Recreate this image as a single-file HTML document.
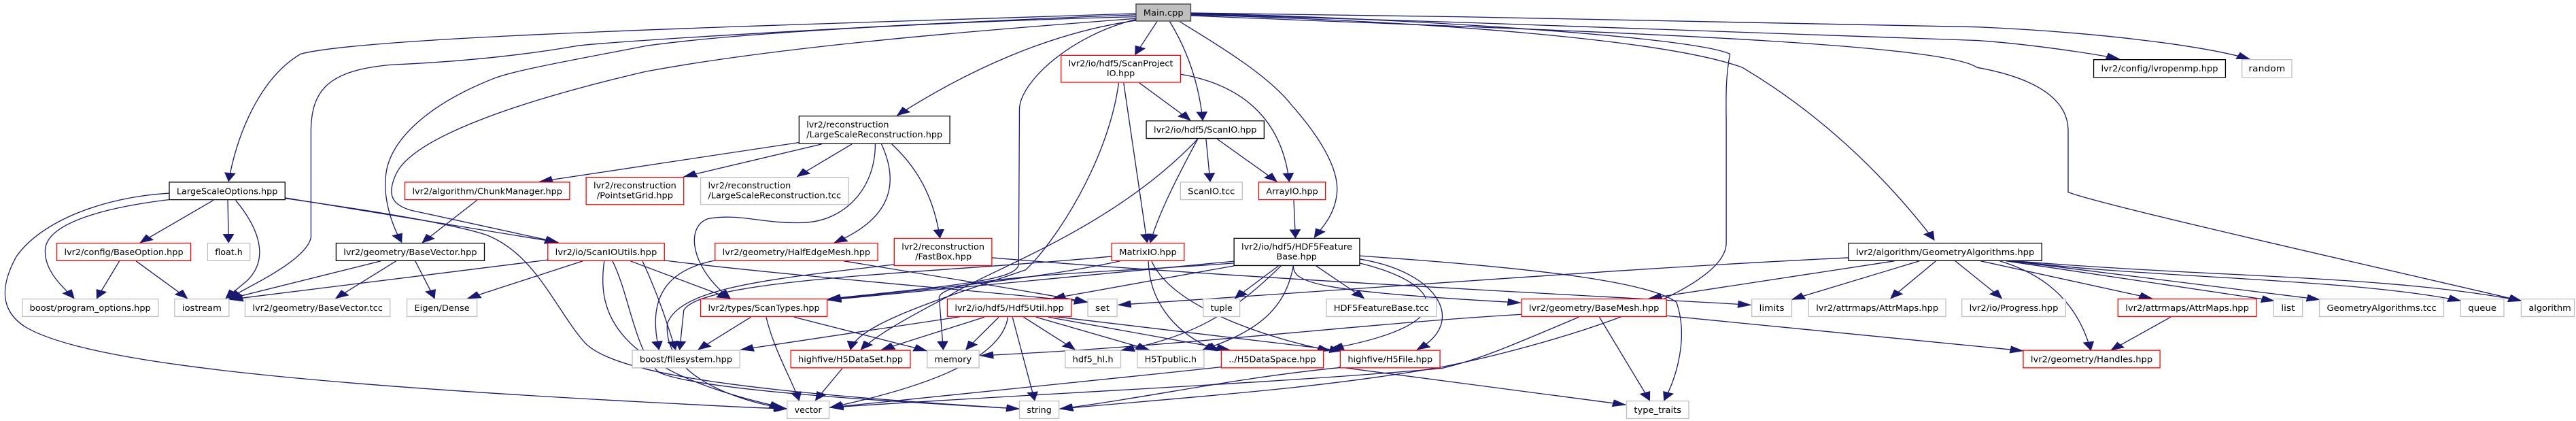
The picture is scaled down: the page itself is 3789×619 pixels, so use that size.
<!DOCTYPE html>
<html><head><meta charset="utf-8"><style>
html,body{margin:0;padding:0;background:#fff;}
svg{display:block;}
text{font-family:"DejaVu Sans","Liberation Sans",sans-serif;font-size:32px;fill:#000;}
</style></head><body>
<svg width="3789" height="619" viewBox="0 0 6254 1560" preserveAspectRatio="none" xmlns="http://www.w3.org/2000/svg">
<defs>
<marker id="a" markerUnits="userSpaceOnUse" markerWidth="34" markerHeight="28" refX="32" refY="14" orient="auto">
<path d="M0,0 L34,14 L0,28 z" fill="#191970"/>
</marker>
</defs>
<g fill="none" stroke="#191970" stroke-width="1.3" vector-effect="non-scaling-stroke" marker-end="url(#a)">
<path vector-effect="non-scaling-stroke" d="M2758,50 C2000,90 900,130 730,200 C630,290 575,500 555,672"/>
<path vector-effect="non-scaling-stroke" d="M2758,55 C2300,80 1500,150 1400,170 C1250,210 1100,230 950,240 C800,260 757,330 755,480 L755,880 C745,960 620,1050 555,1105"/>
<path vector-effect="non-scaling-stroke" d="M2760,62 C2300,80 1800,120 1568,170 C1400,220 1250,260 1200,290 C1050,380 960,500 940,620 C925,720 950,830 975,898"/>
<path vector-effect="non-scaling-stroke" d="M2762,68 C2400,110 1900,170 1568,265 C1300,360 1000,500 960,650 C940,720 950,760 1000,780 L1355,898"/>
<path vector-effect="non-scaling-stroke" d="M2762,75 C2550,120 2350,260 2178,428"/>
<path vector-effect="non-scaling-stroke" d="M2809,80 L2756,203"/>
<path vector-effect="non-scaling-stroke" d="M2840,80 C2880,180 2910,300 2920,446"/>
<path vector-effect="non-scaling-stroke" d="M2864,80 C2960,170 3080,280 3136,390 C3200,500 3250,620 3246,710 C3243,790 3210,845 3191,880"/>
<path vector-effect="non-scaling-stroke" d="M2758,72 C2600,130 2480,300 2475,400 L2473,980 C2470,1040 2300,1060 2010,1108"/>
<path vector-effect="non-scaling-stroke" d="M2891,50 C3300,60 4100,130 4200,200 C4190,280 4190,350 4191,450 L4191,900 C4191,1100 3700,1300 3500,1360 C3200,1440 2900,1470 2573,1515"/>
<path vector-effect="non-scaling-stroke" d="M2891,55 C3500,80 4050,150 4230,250 C4450,450 4600,700 4696,890"/>
<path vector-effect="non-scaling-stroke" d="M2891,58 C3700,110 4704,150 4800,250 C4980,300 5020,400 5021,480 L5021,712 C5100,760 5800,1000 6122,1115"/>
<path vector-effect="non-scaling-stroke" d="M2891,52 C3600,80 4704,150 4800,150 C4900,160 5050,190 5145,218"/>
<path vector-effect="non-scaling-stroke" d="M2891,48 C3600,60 4704,95 4800,100 C5100,120 5350,170 5462,219"/>
<path vector-effect="non-scaling-stroke" d="M518,742 L340,900"/>
<path vector-effect="non-scaling-stroke" d="M553,742 L555,899"/>
<path vector-effect="non-scaling-stroke" d="M572,742 C620,830 660,950 600,1040 L548,1106"/>
<path vector-effect="non-scaling-stroke" d="M410,740 C300,760 120,810 110,920 C105,1000 150,1060 180,1106"/>
<path vector-effect="non-scaling-stroke" d="M410,716 C250,730 100,820 40,950 C0,1060 0,1150 60,1210 C200,1340 700,1420 1568,1490 C1700,1500 1800,1510 1911,1515"/>
<path vector-effect="non-scaling-stroke" d="M692,733 L1355,898"/>
<path vector-effect="non-scaling-stroke" d="M692,735 C900,780 1100,830 1180,870 C1300,940 1350,1150 1420,1270 C1500,1400 1900,1460 2475,1515"/>
<path vector-effect="non-scaling-stroke" d="M290,967 L235,1106"/>
<path vector-effect="non-scaling-stroke" d="M330,967 L455,1106"/>
<path vector-effect="non-scaling-stroke" d="M1158,742 L1025,900"/>
<path vector-effect="non-scaling-stroke" d="M925,967 L555,1108"/>
<path vector-effect="non-scaling-stroke" d="M962,967 L815,1106"/>
<path vector-effect="non-scaling-stroke" d="M1008,967 L1055,1106"/>
<path vector-effect="non-scaling-stroke" d="M1330,963 L558,1110"/>
<path vector-effect="non-scaling-stroke" d="M1415,967 L1135,1106"/>
<path vector-effect="non-scaling-stroke" d="M1530,967 L1773,1106"/>
<path vector-effect="non-scaling-stroke" d="M1613,965 C1900,1020 2400,1080 2640,1120"/>
<path vector-effect="non-scaling-stroke" d="M1467,967 C1450,1150 1480,1370 1900,1510"/>
<path vector-effect="non-scaling-stroke" d="M1487,967 C1530,1100 1540,1300 1600,1380 C1700,1450 2200,1490 2475,1515"/>
<path vector-effect="non-scaling-stroke" d="M1560,968 C1600,1100 1620,1200 1640,1296"/>
<path vector-effect="non-scaling-stroke" d="M1940,528 L1310,673"/>
<path vector-effect="non-scaling-stroke" d="M1995,534 L1660,655"/>
<path vector-effect="non-scaling-stroke" d="M2068,534 L1935,655"/>
<path vector-effect="non-scaling-stroke" d="M2125,534 C2125,700 2050,820 1950,825 C1850,830 1800,790 1720,810 C1660,840 1680,1000 1773,1106"/>
<path vector-effect="non-scaling-stroke" d="M2140,534 C2190,700 2150,820 2025,900"/>
<path vector-effect="non-scaling-stroke" d="M2165,534 C2240,640 2270,760 2282,882"/>
<path vector-effect="non-scaling-stroke" d="M2048,967 C2300,1030 2500,1080 2641,1120"/>
<path vector-effect="non-scaling-stroke" d="M1736,965 C1620,1000 1570,1100 1600,1296"/>
<path vector-effect="non-scaling-stroke" d="M2408,955 C3000,1030 3800,1090 4251,1130"/>
<path vector-effect="non-scaling-stroke" d="M2171,980 C1900,1030 1650,1060 1620,1200 C1610,1400 1800,1490 1911,1515"/>
<path vector-effect="non-scaling-stroke" d="M2766,307 L2890,446"/>
<path vector-effect="non-scaling-stroke" d="M2728,307 L2785,899"/>
<path vector-effect="non-scaling-stroke" d="M2866,275 C3000,310 3110,420 3130,673"/>
<path vector-effect="non-scaling-stroke" d="M2716,307 C2690,600 2560,900 2490,1000 C2300,1100 2080,1200 2065,1296"/>
<path vector-effect="non-scaling-stroke" d="M2928,515 L2938,673"/>
<path vector-effect="non-scaling-stroke" d="M2955,515 L3100,673"/>
<path vector-effect="non-scaling-stroke" d="M2908,515 C2860,650 2810,800 2793,899"/>
<path vector-effect="non-scaling-stroke" d="M2908,515 C2700,850 2400,1000 2300,1100 C2200,1180 2130,1240 2090,1296"/>
<path vector-effect="non-scaling-stroke" d="M3141,742 L3145,882"/>
<path vector-effect="non-scaling-stroke" d="M2720,967 C2500,1040 2200,1080 2010,1110"/>
<path vector-effect="non-scaling-stroke" d="M2788,968 C2790,1100 2840,1230 2955,1300"/>
<path vector-effect="non-scaling-stroke" d="M2796,968 C2850,1150 3100,1260 3230,1300"/>
<path vector-effect="non-scaling-stroke" d="M2699,950 C2300,1010 1700,1030 1660,1150 L1650,1296"/>
<path vector-effect="non-scaling-stroke" d="M2996,968 L2010,1112"/>
<path vector-effect="non-scaling-stroke" d="M2996,985 L2555,1106"/>
<path vector-effect="non-scaling-stroke" d="M3104,985 L2998,1106"/>
<path vector-effect="non-scaling-stroke" d="M3195,985 L3312,1106"/>
<path vector-effect="non-scaling-stroke" d="M3301,960 C3500,1010 3560,1200 3440,1296"/>
<path vector-effect="non-scaling-stroke" d="M3301,975 C3500,1050 3560,1200 3230,1292"/>
<path vector-effect="non-scaling-stroke" d="M3301,948 C3700,990 4000,1040 4070,1120 C4100,1250 4070,1400 4040,1484"/>
<path vector-effect="non-scaling-stroke" d="M3110,985 C3000,1150 2900,1250 2722,1298"/>
<path vector-effect="non-scaling-stroke" d="M3140,985 C3120,1150 3050,1230 2920,1296"/>
<path vector-effect="non-scaling-stroke" d="M2996,975 C2700,1010 2300,1020 2280,1100 L2290,1296"/>
<path vector-effect="non-scaling-stroke" d="M3140,985 C3140,1050 3200,1080 3692,1122"/>
<path vector-effect="non-scaling-stroke" d="M2330,1174 L1798,1296"/>
<path vector-effect="non-scaling-stroke" d="M2390,1175 L2140,1296"/>
<path vector-effect="non-scaling-stroke" d="M2425,1175 L2345,1296"/>
<path vector-effect="non-scaling-stroke" d="M2485,1175 L2610,1296"/>
<path vector-effect="non-scaling-stroke" d="M2515,1175 L2790,1296"/>
<path vector-effect="non-scaling-stroke" d="M2545,1175 L2985,1296"/>
<path vector-effect="non-scaling-stroke" d="M2560,1173 L3260,1300"/>
<path vector-effect="non-scaling-stroke" d="M2447,1175 C2430,1350 2200,1450 2015,1510"/>
<path vector-effect="non-scaling-stroke" d="M2458,1175 L2512,1484"/>
<path vector-effect="non-scaling-stroke" d="M1823,1175 L1695,1296"/>
<path vector-effect="non-scaling-stroke" d="M1860,1175 C1880,1300 1920,1400 1940,1484"/>
<path vector-effect="non-scaling-stroke" d="M1928,1175 L2250,1300"/>
<path vector-effect="non-scaling-stroke" d="M2045,1365 L1980,1484"/>
<path vector-effect="non-scaling-stroke" d="M2965,1360 C2600,1420 2200,1480 2015,1510"/>
<path vector-effect="non-scaling-stroke" d="M3250,1360 L3947,1500"/>
<path vector-effect="non-scaling-stroke" d="M3254,1362 C3000,1400 2800,1470 2573,1515"/>
<path vector-effect="non-scaling-stroke" d="M3883,1175 L4005,1484"/>
<path vector-effect="non-scaling-stroke" d="M4046,1170 L4912,1300"/>
<path vector-effect="non-scaling-stroke" d="M3833,1175 C3700,1260 3600,1330 3500,1365 C3100,1420 2500,1460 2015,1510"/>
<path vector-effect="non-scaling-stroke" d="M3694,1165 C3300,1200 2900,1280 2380,1318"/>
<path vector-effect="non-scaling-stroke" d="M4488,955 C4000,990 3500,1050 2714,1130"/>
<path vector-effect="non-scaling-stroke" d="M4600,967 L4003,1106"/>
<path vector-effect="non-scaling-stroke" d="M4660,967 L4350,1110"/>
<path vector-effect="non-scaling-stroke" d="M4700,967 L4590,1106"/>
<path vector-effect="non-scaling-stroke" d="M4747,967 L4860,1106"/>
<path vector-effect="non-scaling-stroke" d="M4808,967 L5225,1106"/>
<path vector-effect="non-scaling-stroke" d="M4855,967 C4950,1010 5040,1100 5076,1298"/>
<path vector-effect="non-scaling-stroke" d="M4870,967 L5522,1115"/>
<path vector-effect="non-scaling-stroke" d="M4880,967 L5632,1110"/>
<path vector-effect="non-scaling-stroke" d="M4890,967 C5200,1030 5700,1030 5975,1115"/>
<path vector-effect="non-scaling-stroke" d="M4890,967 C5400,1030 5800,1020 6122,1115"/>
<path vector-effect="non-scaling-stroke" d="M5270,1175 L5125,1298"/>
</g>
<g stroke-width="1.3">
<!-- boxes: black border -->
<g fill="#fff" stroke="#000">
<rect vector-effect="non-scaling-stroke" x="411" y="675" width="281" height="65"/>
<rect vector-effect="non-scaling-stroke" x="816" y="901" width="360" height="65"/>
<rect vector-effect="non-scaling-stroke" x="1940" y="430" width="366" height="102"/>
<rect vector-effect="non-scaling-stroke" x="2783" y="448" width="286" height="65"/>
<rect vector-effect="non-scaling-stroke" x="2996" y="883" width="305" height="101"/>
<rect vector-effect="non-scaling-stroke" x="4488" y="901" width="469" height="65"/>
<rect vector-effect="non-scaling-stroke" x="5083" y="221" width="320" height="66"/>
</g>
<rect vector-effect="non-scaling-stroke" x="2758" y="15" width="133" height="63" fill="#bfbfbf" stroke="#404040"/>
<g fill="#fff" stroke="#ff0000">
<rect vector-effect="non-scaling-stroke" x="983" y="675" width="400" height="65"/>
<rect vector-effect="non-scaling-stroke" x="1423" y="657" width="237" height="101"/>
<rect vector-effect="non-scaling-stroke" x="2576" y="205" width="290" height="100"/>
<rect vector-effect="non-scaling-stroke" x="3056" y="675" width="162" height="65"/>
<rect vector-effect="non-scaling-stroke" x="138" y="901" width="325" height="65"/>
<rect vector-effect="non-scaling-stroke" x="1330" y="901" width="283" height="65"/>
<rect vector-effect="non-scaling-stroke" x="1736" y="901" width="395" height="65"/>
<rect vector-effect="non-scaling-stroke" x="2171" y="883" width="237" height="101"/>
<rect vector-effect="non-scaling-stroke" x="2699" y="901" width="176" height="65"/>
<rect vector-effect="non-scaling-stroke" x="1701" y="1108" width="307" height="65"/>
<rect vector-effect="non-scaling-stroke" x="2300" y="1108" width="301" height="65"/>
<rect vector-effect="non-scaling-stroke" x="3694" y="1108" width="352" height="65"/>
<rect vector-effect="non-scaling-stroke" x="5142" y="1108" width="336" height="65"/>
<rect vector-effect="non-scaling-stroke" x="1920" y="1298" width="290" height="65"/>
<rect vector-effect="non-scaling-stroke" x="2965" y="1298" width="248" height="65"/>
<rect vector-effect="non-scaling-stroke" x="3254" y="1298" width="242" height="65"/>
<rect vector-effect="non-scaling-stroke" x="4912" y="1298" width="332" height="65"/>
</g>
<g fill="#fff" stroke="#bfbfbf">
<rect vector-effect="non-scaling-stroke" x="2866" y="675" width="150" height="65"/>
<rect vector-effect="non-scaling-stroke" x="1701" y="657" width="359" height="101"/>
<rect vector-effect="non-scaling-stroke" x="504" y="901" width="103" height="65"/>
<rect vector-effect="non-scaling-stroke" x="5443" y="221" width="121" height="66"/>
<rect vector-effect="non-scaling-stroke" x="54" y="1108" width="330" height="65"/>
<rect vector-effect="non-scaling-stroke" x="424" y="1108" width="132" height="65"/>
<rect vector-effect="non-scaling-stroke" x="595" y="1108" width="352" height="65"/>
<rect vector-effect="non-scaling-stroke" x="988" y="1108" width="170" height="65"/>
<rect vector-effect="non-scaling-stroke" x="2641" y="1108" width="71" height="65"/>
<rect vector-effect="non-scaling-stroke" x="2921" y="1108" width="89" height="65"/>
<rect vector-effect="non-scaling-stroke" x="3220" y="1108" width="267" height="65"/>
<rect vector-effect="non-scaling-stroke" x="4253" y="1108" width="97" height="65"/>
<rect vector-effect="non-scaling-stroke" x="4391" y="1108" width="333" height="65"/>
<rect vector-effect="non-scaling-stroke" x="4763" y="1108" width="252" height="65"/>
<rect vector-effect="non-scaling-stroke" x="5520" y="1108" width="70" height="65"/>
<rect vector-effect="non-scaling-stroke" x="5631" y="1108" width="302" height="65"/>
<rect vector-effect="non-scaling-stroke" x="5974" y="1108" width="105" height="65"/>
<rect vector-effect="non-scaling-stroke" x="6121" y="1108" width="129" height="65"/>
<rect vector-effect="non-scaling-stroke" x="1535" y="1298" width="261" height="65"/>
<rect vector-effect="non-scaling-stroke" x="2251" y="1298" width="126" height="65"/>
<rect vector-effect="non-scaling-stroke" x="2586" y="1298" width="135" height="65"/>
<rect vector-effect="non-scaling-stroke" x="2761" y="1298" width="162" height="65"/>
<rect vector-effect="non-scaling-stroke" x="1911" y="1486" width="102" height="65"/>
<rect vector-effect="non-scaling-stroke" x="2475" y="1486" width="96" height="65"/>
<rect vector-effect="non-scaling-stroke" x="3949" y="1486" width="151" height="65"/>
</g>
</g>
<g text-anchor="start" lengthAdjust="spacingAndGlyphs">
<text x="2776" y="58" textLength="97" lengthAdjust="spacingAndGlyphs">Main.cpp</text>
<text x="429" y="719" textLength="245" lengthAdjust="spacingAndGlyphs">LargeScaleOptions.hpp</text>
<text x="834" y="945" textLength="324" lengthAdjust="spacingAndGlyphs">lvr2/geometry/BaseVector.hpp</text>
<text x="1958" y="472" textLength="200" lengthAdjust="spacingAndGlyphs">lvr2/reconstruction</text>
<text x="1958" y="509" textLength="330" lengthAdjust="spacingAndGlyphs">/LargeScaleReconstruction.hpp</text>
<text x="2801" y="492" textLength="250" lengthAdjust="spacingAndGlyphs">lvr2/io/hdf5/ScanIO.hpp</text>
<text x="3014" y="925" textLength="269" lengthAdjust="spacingAndGlyphs">lvr2/io/hdf5/HDF5Feature</text>
<text x="3099" y="961" textLength="98" lengthAdjust="spacingAndGlyphs">Base.hpp</text>
<text x="4506" y="945" textLength="433" lengthAdjust="spacingAndGlyphs">lvr2/algorithm/GeometryAlgorithms.hpp</text>
<text x="5101" y="265" textLength="284" lengthAdjust="spacingAndGlyphs">lvr2/config/lvropenmp.hpp</text>
<text x="1001" y="719" textLength="364" lengthAdjust="spacingAndGlyphs">lvr2/algorithm/ChunkManager.hpp</text>
<text x="1441" y="698" textLength="201" lengthAdjust="spacingAndGlyphs">lvr2/reconstruction</text>
<text x="1449" y="735" textLength="185" lengthAdjust="spacingAndGlyphs">/PointsetGrid.hpp</text>
<text x="2594" y="246" textLength="254" lengthAdjust="spacingAndGlyphs">lvr2/io/hdf5/ScanProject</text>
<text x="2687" y="282" textLength="68" lengthAdjust="spacingAndGlyphs">IO.hpp</text>
<text x="3074" y="719" textLength="126" lengthAdjust="spacingAndGlyphs">ArrayIO.hpp</text>
<text x="156" y="945" textLength="289" lengthAdjust="spacingAndGlyphs">lvr2/config/BaseOption.hpp</text>
<text x="1348" y="945" textLength="247" lengthAdjust="spacingAndGlyphs">lvr2/io/ScanIOUtils.hpp</text>
<text x="1754" y="945" textLength="359" lengthAdjust="spacingAndGlyphs">lvr2/geometry/HalfEdgeMesh.hpp</text>
<text x="2189" y="925" textLength="201" lengthAdjust="spacingAndGlyphs">lvr2/reconstruction</text>
<text x="2222" y="961" textLength="137" lengthAdjust="spacingAndGlyphs">/FastBox.hpp</text>
<text x="2717" y="945" textLength="140" lengthAdjust="spacingAndGlyphs">MatrixIO.hpp</text>
<text x="1719" y="1152" textLength="271" lengthAdjust="spacingAndGlyphs">lvr2/types/ScanTypes.hpp</text>
<text x="2318" y="1152" textLength="265" lengthAdjust="spacingAndGlyphs">lvr2/io/hdf5/Hdf5Util.hpp</text>
<text x="3712" y="1152" textLength="316" lengthAdjust="spacingAndGlyphs">lvr2/geometry/BaseMesh.hpp</text>
<text x="5160" y="1152" textLength="300" lengthAdjust="spacingAndGlyphs">lvr2/attrmaps/AttrMaps.hpp</text>
<text x="1938" y="1342" textLength="254" lengthAdjust="spacingAndGlyphs">highfive/H5DataSet.hpp</text>
<text x="2983" y="1342" textLength="212" lengthAdjust="spacingAndGlyphs">../H5DataSpace.hpp</text>
<text x="3272" y="1342" textLength="206" lengthAdjust="spacingAndGlyphs">highfive/H5File.hpp</text>
<text x="4930" y="1342" textLength="296" lengthAdjust="spacingAndGlyphs">lvr2/geometry/Handles.hpp</text>
<text x="2884" y="719" textLength="114" lengthAdjust="spacingAndGlyphs">ScanIO.tcc</text>
<text x="1719" y="698" textLength="201" lengthAdjust="spacingAndGlyphs">lvr2/reconstruction</text>
<text x="1719" y="735" textLength="323" lengthAdjust="spacingAndGlyphs">/LargeScaleReconstruction.tcc</text>
<text x="522" y="945" textLength="67" lengthAdjust="spacingAndGlyphs">float.h</text>
<text x="5459" y="265" textLength="89" lengthAdjust="spacingAndGlyphs">random</text>
<text x="72" y="1152" textLength="294" lengthAdjust="spacingAndGlyphs">boost/program_options.hpp</text>
<text x="442" y="1152" textLength="96" lengthAdjust="spacingAndGlyphs">iostream</text>
<text x="613" y="1152" textLength="316" lengthAdjust="spacingAndGlyphs">lvr2/geometry/BaseVector.tcc</text>
<text x="1006" y="1152" textLength="134" lengthAdjust="spacingAndGlyphs">Eigen/Dense</text>
<text x="2659" y="1152" textLength="35" lengthAdjust="spacingAndGlyphs">set</text>
<text x="2939" y="1152" textLength="53" lengthAdjust="spacingAndGlyphs">tuple</text>
<text x="3238" y="1152" textLength="231" lengthAdjust="spacingAndGlyphs">HDF5FeatureBase.tcc</text>
<text x="4271" y="1152" textLength="61" lengthAdjust="spacingAndGlyphs">limits</text>
<text x="4409" y="1152" textLength="297" lengthAdjust="spacingAndGlyphs">lvr2/attrmaps/AttrMaps.hpp</text>
<text x="4781" y="1152" textLength="216" lengthAdjust="spacingAndGlyphs">lvr2/io/Progress.hpp</text>
<text x="5538" y="1152" textLength="34" lengthAdjust="spacingAndGlyphs">list</text>
<text x="5649" y="1152" textLength="266" lengthAdjust="spacingAndGlyphs">GeometryAlgorithms.tcc</text>
<text x="5992" y="1152" textLength="69" lengthAdjust="spacingAndGlyphs">queue</text>
<text x="6139" y="1152" textLength="103" lengthAdjust="spacingAndGlyphs">algorithm</text>
<text x="1553" y="1342" textLength="225" lengthAdjust="spacingAndGlyphs">boost/filesystem.hpp</text>
<text x="2269" y="1342" textLength="90" lengthAdjust="spacingAndGlyphs">memory</text>
<text x="2604" y="1342" textLength="99" lengthAdjust="spacingAndGlyphs">hdf5_hl.h</text>
<text x="2779" y="1342" textLength="126" lengthAdjust="spacingAndGlyphs">H5Tpublic.h</text>
<text x="1929" y="1530" textLength="66" lengthAdjust="spacingAndGlyphs">vector</text>
<text x="2493" y="1530" textLength="60" lengthAdjust="spacingAndGlyphs">string</text>
<text x="3967" y="1530" textLength="115" lengthAdjust="spacingAndGlyphs">type_traits</text>
</g>
</svg>
</body></html>
